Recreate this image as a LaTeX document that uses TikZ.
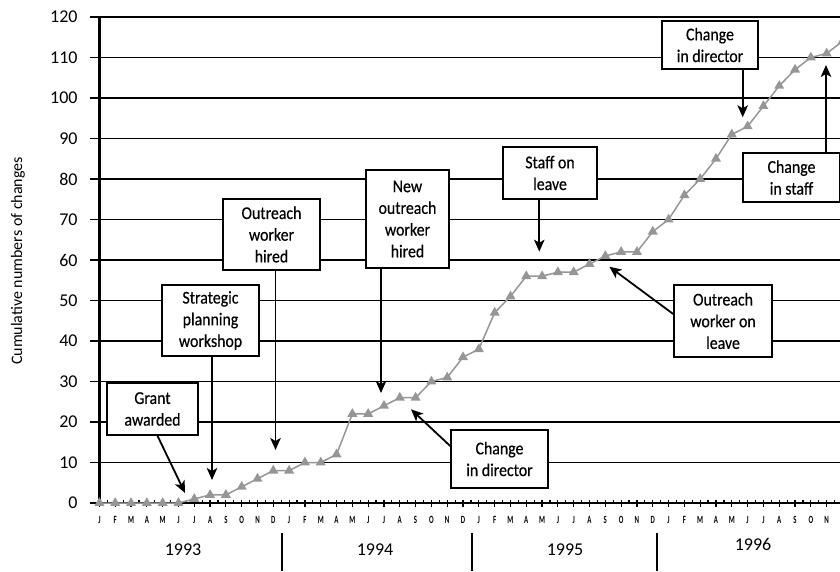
\documentclass[tikz,border=0pt]{standalone}
\usepackage{fontspec}
\setmainfont{Carlito}
\newfontfamily\boxfont[FakeStretch=0.88,FakeBold=0.4]{Carlito}
\newfontfamily\monthfont[FakeStretch=0.62]{Carlito}
\usetikzlibrary{arrows.meta,calc,plotmarks}
\definecolor{seriesgray}{RGB}{150,150,150}

\begin{document}
\begin{tikzpicture}[x=1pt,y=1pt,
  grid line/.style={line width=1.3pt},
  axis line/.style={line width=2.6pt},
  tick line/.style={line width=1.2pt},
  label box/.style={draw, line width=1.6pt, fill=white, align=center,
    inner sep=0pt, font=\boxfont\fontsize{18}{21.7}\selectfont},
  callout/.style={line width=1.8pt,
    -{Stealth[length=12pt,width=10.5pt,inset=3pt]}},
  ticklabel/.style={anchor=east, inner sep=0pt, font=\fontsize{18}{18}\selectfont},
  monthlabel/.style={inner sep=0pt, font=\monthfont\bfseries\fontsize{11}{11}\selectfont},
  yearlabel/.style={inner sep=0pt, font=\fontsize{18}{18}\selectfont}
]
\useasboundingbox (0,0) rectangle (840,571);
\clip (0,0) rectangle (840,571);

% ---- chart area: one unit = one month horizontally, one change vertically
\begin{scope}[shift={(99.4,68)}, x=15.81pt, y=4.05pt]
  % horizontal grid
  \foreach \v in {10,20,...,110}
    \draw[grid line] (0,\v) -- (47.5,\v);
  \draw[line width=2pt] (0,120) -- (47.5,120);
  % y axis with ticks and labels
  \draw[axis line] (0,120) -- (0,0);
  \foreach \v in {0,10,...,120} {
    \draw[tick line] (0,\v) -- ++(-9pt,0);
    \node[ticklabel, xshift=-21.7pt] at (0,\v) {\v};
  }
  % x axis with half-month ticks above and month ticks below
  \draw[axis line] (0,0) ++(-9pt,0) -- (47.5,0);
  \foreach \k in {1,...,95}
    \draw[tick line] (\k/2,0) -- ++(0,3.5pt);
  \foreach \m in {0,...,47}
    \draw[tick line] (\m,0) -- ++(0,-3.5pt);
  \foreach \l [count=\i from 0] in {J,F,M,A,M,J,J,A,S,O,N,D,
                                   J,F,M,A,M,J,J,A,S,O,N,D,
                                   J,F,M,A,M,J,J,A,S,O,N,D,
                                   J,F,M,A,M,J,J,A,S,O,N}
    \node[monthlabel, yshift=-17pt] at (\i,0) {\l};
  % cumulative changes
  \draw[seriesgray, line width=1.5pt]
    plot[mark=triangle*, mark size=4.3pt,
         mark options={draw=none, fill=seriesgray}]
    coordinates {
      (0,0) (1,0) (2,0) (3,0) (4,0) (5,0) (6,1) (7,2) (8,2) (9,4) (10,6) (11,8)
      (12,8) (13,10) (14,10) (15,12) (16,22) (17,22) (18,24) (19,26) (20,26) (21,30) (22,31) (23,36)
      (24,38) (25,47) (26,51) (27,56) (28,56) (29,57) (30,57) (31,59) (32,61) (33,62) (34,62) (35,67)
      (36,70) (37,76) (38,80) (39,85) (40,91) (41,93) (42,98) (43,103) (44,107) (45,110) (46,111) (47,114)
    };
\end{scope}

% year bands
\foreach \x in {282,472,657}
  \draw[line width=1.5pt] (\x,38) -- (\x,0);
\node[yearlabel] (y93) at (183,21) {1993};
\node[yearlabel] (y94) at (375,21) {1994};
\node[yearlabel] (y95) at (565,21) {1995};
\node[yearlabel] (y96) at (753,27) {1996};

% axis title
\node[rotate=90, inner sep=0pt, font=\fontsize{16}{16}\selectfont] (ytitle) at (18,310)
  {Cumulative numbers of changes};

% event boxes
\node[label box, minimum width=91pt, minimum height=52pt] (grant) at (152.5,162) {Grant\\awarded};
\node[label box, minimum width=97pt, minimum height=71pt] (strat) at (210.5,250.5) {Strategic\\planning\\workshop};
\node[label box, minimum width=97pt, minimum height=71pt] (hired) at (271.5,336.5) {Outreach\\worker\\hired};
\node[label box, minimum width=83pt, minimum height=98pt] (newhired) at (407.5,352) {New\\outreach\\worker\\hired};
\node[label box, minimum width=94pt, minimum height=52pt] (staff) at (550,398) {Staff on\\leave};
\node[label box, minimum width=97pt, minimum height=58pt] (dirlow) at (499.5,112) {Change\\in director};
\node[label box, minimum width=98pt, minimum height=72pt] (wleave) at (723,250) {Outreach\\worker on\\leave};
\node[label box, minimum width=96pt, minimum height=48pt] (dirup) at (710,526) {Change\\in director};
\node[label box, minimum width=97pt, minimum height=49pt] (cstaff) at (791.5,393.5) {Change\\in staff};

% arrow targets on the curve
\coordinate (tGrant)  at (185,78);
\coordinate (tStrat)  at (212,91);
\coordinate (tHired)  at (275.5,121);
\coordinate (tNew)    at (381,178);
\coordinate (tStaff)  at (539.3,319.3);
\coordinate (tDirLow) at (411,161.7);
\coordinate (tLeave)  at (609.3,304.3);
\coordinate (tDirUp)  at (742.7,453.7);
\coordinate (tCStaff) at (826,506);

% callout arrows
\draw[callout] ($(grant.south)+(5,0)$) -- (tGrant);
\draw[callout] (strat.south -| tStrat) -- (tStrat);
\draw[callout] (hired.south -| tHired) -- (tHired);
\draw[callout] (newhired.south -| tNew) -- (tNew);
\draw[callout] (staff.south -| tStaff) -- (tStaff);
\draw[callout] ($(dirlow.west)+(0,13)$) -- (tDirLow);
\draw[callout] ($(wleave.west)+(0,7)$) -- (tLeave);
\draw[callout] (dirup.south -| tDirUp) -- (tDirUp);
\draw[callout] (cstaff.north -| tCStaff) -- (tCStaff);
\end{tikzpicture}
\end{document}
